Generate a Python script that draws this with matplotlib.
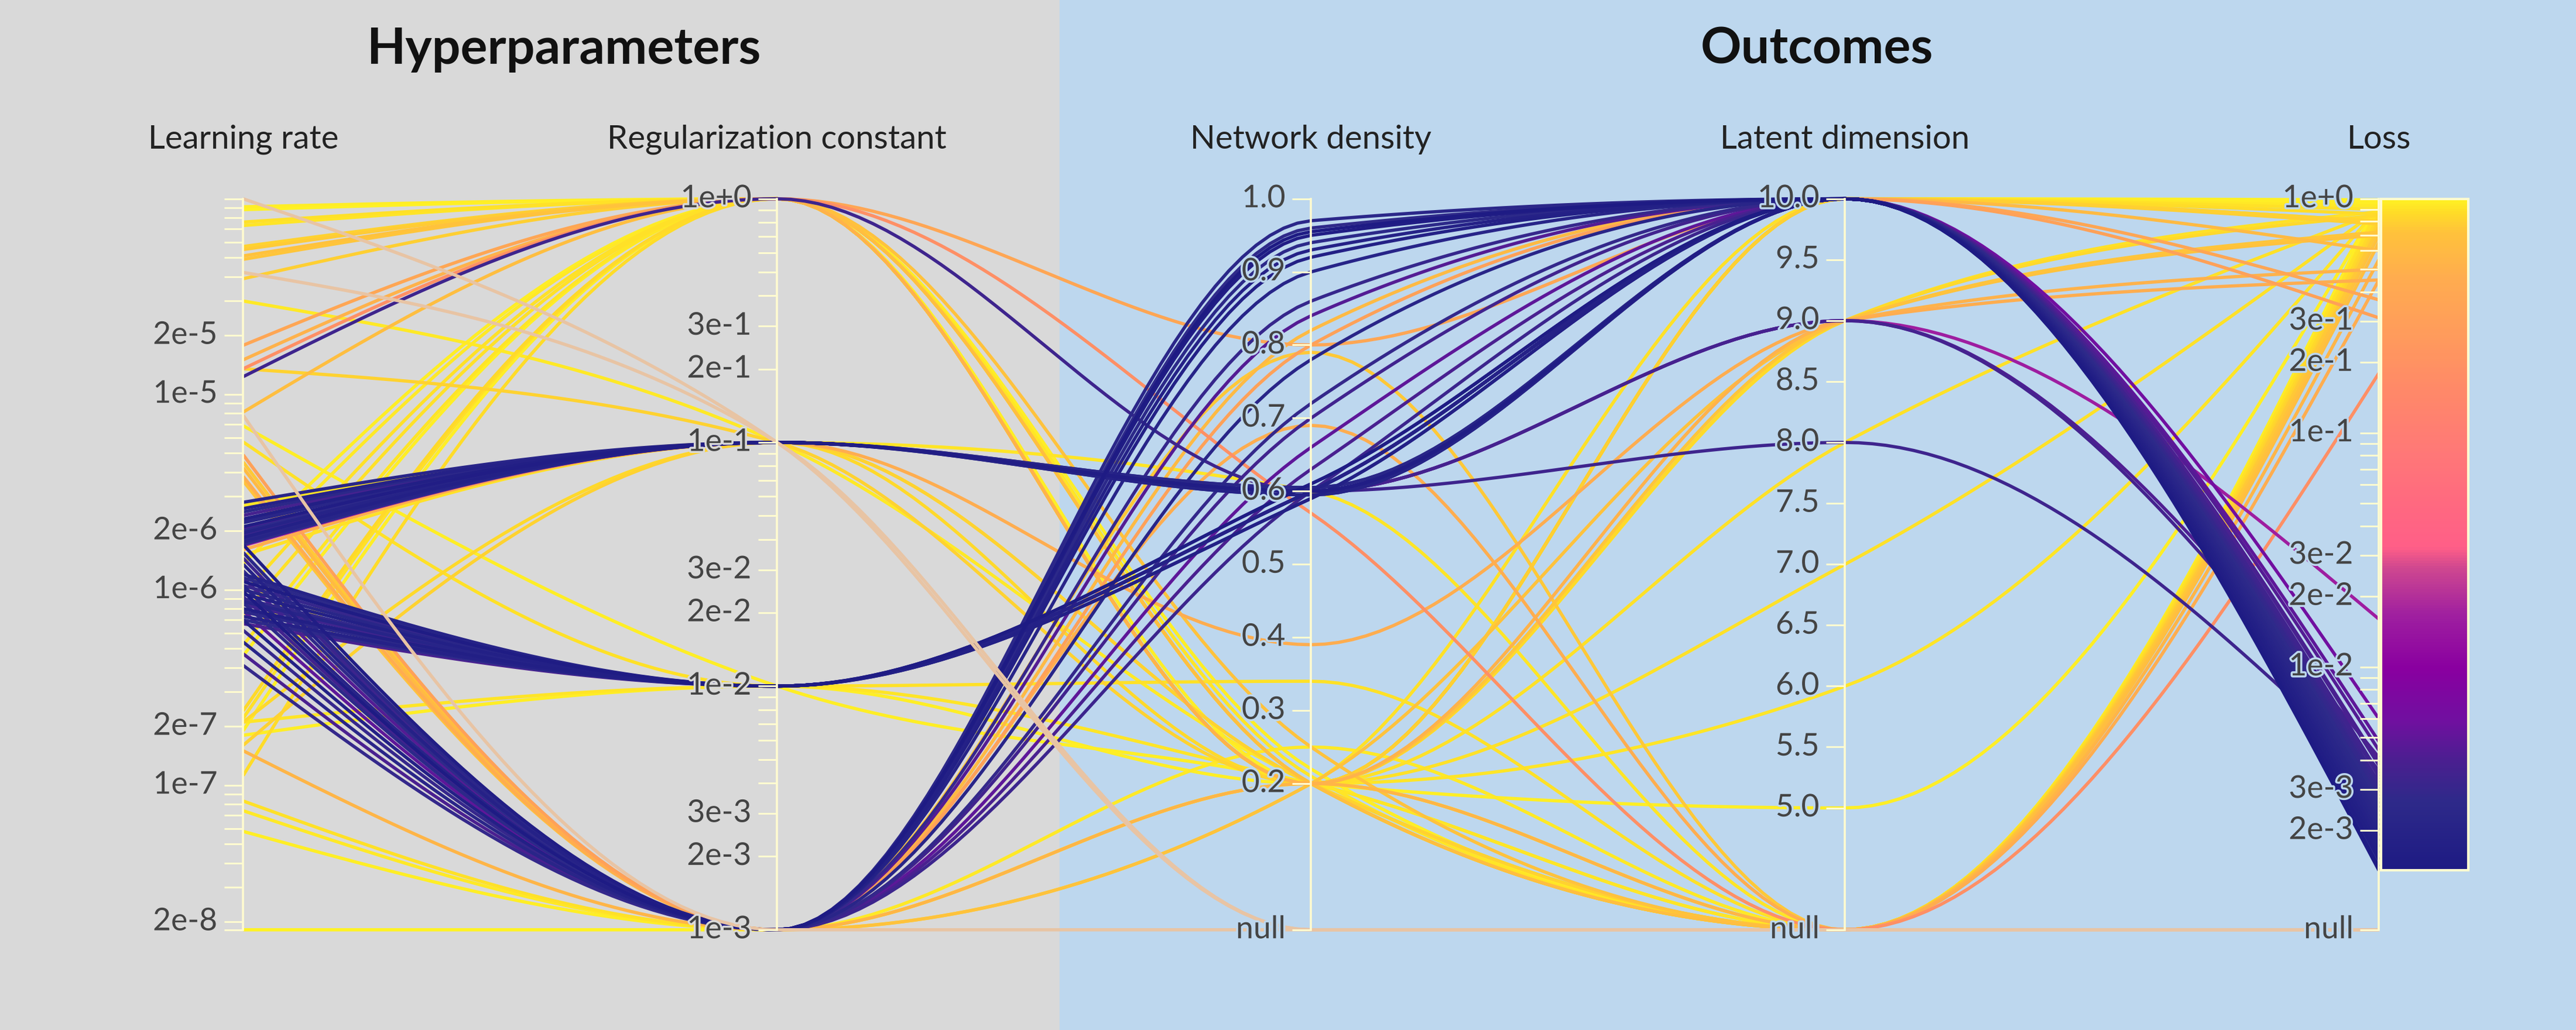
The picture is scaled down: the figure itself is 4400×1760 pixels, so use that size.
import numpy as np
import matplotlib.pyplot as plt
from matplotlib import patheffects as pe
from matplotlib.colors import LinearSegmentedColormap
from matplotlib.patches import Rectangle

plt.rcParams['font.family'] = ['Lato', 'DejaVu Sans']

nan = np.nan

axis_names = ['Learning rate', 'Regularization constant', 'Network density',
              'Latent dimension', 'Loss']
group_titles = ['Hyperparameters', 'Outcomes']

# one entry per run, same order in every column (nan = null)
learning_rate = [
    # low loss, reg 1e-1
    2.8e-6, 2.6e-6, 2.5e-6, 2.4e-6, 2.3e-6, 2.25e-6, 2.2e-6, 2.1e-6,
    2.05e-6, 2.0e-6, 1.95e-6, 1.9e-6, 1.85e-6, 1.8e-6, 1.75e-6, 1.7e-6,
    1.68e-6, 1.72e-6,
    # low loss, reg 1e-2
    1.2e-6, 1.15e-6, 1.1e-6, 1.05e-6, 1.0e-6, 9.5e-7, 9.0e-7, 8.7e-7,
    8.4e-7, 8.0e-7, 7.7e-7, 7.3e-7, 7.0e-7, 6.7e-7,
    # low loss, reg 1e-3
    1.7e-6, 1.55e-6, 1.45e-6, 1.35e-6, 1.25e-6, 1.15e-6, 1.05e-6, 9.8e-7,
    9.2e-7, 8.6e-7, 7.8e-7, 7.0e-7, 6.2e-7, 5.4e-7, 4.7e-7, 4.1e-7,
    1.23e-5,
    # high loss
    9.1e-5, 8.8e-5, 7.6e-5, 7.3e-5, 5.7e-5, 5.5e-5, 5.1e-5, 4.9e-5, 3.9e-5, 3.0e-5,
    1.78e-5, 1.5e-5, 1.35e-5, 1.35e-5, 8.1e-6, 6.9e-6, 5.7e-6, 4.9e-6, 4.5e-6, 4.2e-6,
    3.8e-6, 3.6e-6, 1.6e-6, 1.35e-6, 9.5e-7, 7.5e-7, 5.2e-7, 4.6e-7, 2.4e-7, 2.2e-7,
    1.9e-7, 1.12e-7, 1.5e-6, 2.1e-7, 1.6e-7, 2.1e-7, 1.8e-7, 1.5e-7, 8.3e-8, 7.4e-8,
    5.8e-8, 1.82e-8, 1.6e-6, 2.7e-6,
    # failed runs
    1.0e-4, 4.2e-5, 7.8e-6,
]

regularization = [
    1e-1, 1e-1, 1e-1, 1e-1, 1e-1, 1e-1, 1e-1, 1e-1,
    1e-1, 1e-1, 1e-1, 1e-1, 1e-1, 1e-1, 1e-1, 1e-1,
    1e-1, 1e-1,
    1e-2, 1e-2, 1e-2, 1e-2, 1e-2, 1e-2, 1e-2, 1e-2,
    1e-2, 1e-2, 1e-2, 1e-2, 1e-2, 1e-2,
    1e-3, 1e-3, 1e-3, 1e-3, 1e-3, 1e-3, 1e-3, 1e-3,
    1e-3, 1e-3, 1e-3, 1e-3, 1e-3, 1e-3, 1e-3, 1e-3,
    1.0,
    1.0, 1.0, 1.0, 1.0, 1.0, 1.0, 1.0, 1.0, 1.0, 1e-1,
    1.0, 1.0, 1.0, 1e-1, 1.0, 1e-2, 1e-2, 1e-3, 1e-3, 1e-3,
    1e-3, 1e-3, 1.0, 1.0, 1.0, 1.0, 1.0, 1.0, 1.0, 1.0,
    1.0, 1.0, 1e-1, 1e-1, 1e-1, 1e-2, 1e-2, 1e-3, 1e-3, 1e-3,
    1e-3, 1e-3, 1e-1, 1e-1,
    1e-1, 1e-1, 1e-3,
]

network_density = [
    0.6, 0.6, 0.595, 0.6, 0.6, 0.6, 0.605, 0.6,
    0.6, 0.6, 0.595, 0.6, 0.6, 0.6, 0.6, 0.605,
    0.6, 0.6,
    0.6, 0.6, 0.61, 0.6, 0.6, 0.59, 0.6, 0.6,
    0.6, 0.61, 0.6, 0.6, 0.59, 0.6,
    0.95, 0.97, 0.6, 0.93, 0.96, 0.84, 0.9, 0.955,
    0.7, 0.94, 0.66, 0.92, 0.86, 0.78, 0.63, 0.72,
    0.6,
    0.2, 0.2, 0.2, 0.21, 0.2, 0.2, 0.25, 0.2, 0.2, 0.2,
    0.8, 0.2, 0.57, 0.2, 0.2, 0.2, 0.34, 0.8, 0.79, 0.82,
    0.69, 0.2, 0.2, 0.2, 0.2, 0.2, 0.2, 0.2, 0.2, 0.2,
    0.22, 0.2, 0.2, 0.2, 0.2, 0.2, 0.2, 0.2, 0.2, 0.25,
    0.2, 0.2, 0.39, 0.6,
    nan, nan, nan,
]

latent_dim = [
    10, 10, 10, 9, 10, 10, 10, 10,
    9, 10, 10, 10, 10, 10, 10, 10,
    9, 10,
    10, 10, 10, 10, 10, 10, 10, 10,
    10, 10, 10, 10, 10, 10,
    10, 10, 10, 10, 10, 10, 10, 10,
    10, 10, 10, 10, 10, 10, 10, 10,
    8,
    nan, 10, 9, nan, 10, nan, nan, 9, 10, nan,
    10, 9, nan, 10, nan, nan, nan, 10, nan, 10,
    nan, 9, 10, 10, 8, 7, 6, 5, nan, nan,
    nan, 10, nan, 9, nan, nan, 10, nan, 10, nan,
    nan, nan, 9, nan,
    nan, nan, nan,
]

loss = [
    2.1e-3, 1.8e-3, 2.4e-3, 3.6e-3, 1.6e-3, 2.9e-3, 2.2e-3, 1.5e-3,
    4.1e-3, 2.6e-3, 1.9e-3, 3.1e-3, 1.7e-3, 2.3e-3, 2.0e-3, 2.7e-3,
    1.6e-2, 6.0e-3,
    1.9e-3, 2.5e-3, 1.4e-3, 3.0e-3, 2.2e-3, 1.7e-3, 2.8e-3, 2.0e-3,
    3.4e-3, 1.6e-3, 2.4e-3, 1.8e-3, 2.6e-3, 3.8e-3,
    1.5e-3, 2.3e-3, 3.2e-3, 1.8e-3, 2.7e-3, 4.4e-3, 2.0e-3, 1.35e-3,
    3.5e-3, 2.5e-3, 4.8e-3, 1.7e-3, 3.0e-3, 2.1e-3, 3.9e-3, 2.9e-3,
    3.3e-3,
    0.95, 0.99, 0.88, 0.92, 0.8, 0.76, 0.7, 0.72, 0.78, 0.93,
    0.37, 0.5, 0.18, 0.8, 0.65, 0.95, 0.9, 0.31, 0.75, 0.6,
    0.45, 0.7, 0.97, 0.93, 0.88, 0.9, 0.92, 0.95, 0.85, 0.9,
    0.96, 0.86, 0.9, 0.85, 0.8, 0.92, 0.95, 0.55, 0.9, 0.93,
    0.97, 0.98, 0.45, 0.92,
    nan, nan, nan,
]

lr_labels = [2e-5, 1e-5, 2e-6, 1e-6, 2e-7, 1e-7, 2e-8]
reg_labels = [1.0, 3e-1, 2e-1, 1e-1, 3e-2, 2e-2, 1e-2, 3e-3, 2e-3, 1e-3]
density_ticks = [1.0, 0.9, 0.8, 0.7, 0.6, 0.5, 0.4, 0.3, 0.2]
latent_ticks = [10.0, 9.5, 9.0, 8.5, 8.0, 7.5, 7.0, 6.5, 6.0, 5.5, 5.0]
loss_labels = [1.0, 3e-1, 2e-1, 1e-1, 3e-2, 2e-2, 1e-2, 3e-3, 2e-3]

GRAY_BG = '#d9d9d9'
BLUE_BG = '#bdd7ee'
AXIS_COLOR = '#fffbd0'
NULL_COLOR = '#e8c4a4'
SPLIT = 0.4113

loss_cmap = LinearSegmentedColormap.from_list('loss', [
    (0.00, '#1e1b84'), (0.10, '#2e2a8a'), (0.16, '#4a2090'), (0.22, '#7010a0'),
    (0.30, '#8a00a0'), (0.38, '#a020a0'), (0.45, '#d04890'), (0.48, '#ff5f88'),
    (0.55, '#ff6a80'), (0.62, '#ff7878'), (0.72, '#ff8a68'), (0.80, '#ff9c5c'),
    (0.88, '#ffac50'), (0.95, '#ffc23c'), (0.98, '#ffdc28'), (1.00, '#fff224')])

# axis domains; nulls sit at the bottom of their axis
lr_lo, lr_hi = np.log10(min(learning_rate)), np.log10(max(learning_rate))
reg_lo, reg_hi = np.log10(min(regularization)), np.log10(max(regularization))
DENSITY_NULL, DENSITY_TOP = 0.0, 1.0
LATENT_NULL, LATENT_TOP = 4.0, 10.0
LOSS_NULL, LOSS_TOP = -3.123, 0.0
loss_min = np.nanmin(loss)


def scale_log(v, lo, hi):
    if np.isnan(v):
        return 0.0
    return (np.log10(v) - lo) / (hi - lo)


def scale_lin(v, lo, hi):
    if np.isnan(v):
        return 0.0
    return (v - lo) / (hi - lo)


scalers = [
    lambda v: scale_log(v, lr_lo, lr_hi),
    lambda v: scale_log(v, reg_lo, reg_hi),
    lambda v: scale_lin(v, DENSITY_NULL, DENSITY_TOP),
    lambda v: scale_lin(v, LATENT_NULL, LATENT_TOP),
    lambda v: scale_log(v, LOSS_NULL, LOSS_TOP),
]


def loss_color(v):
    if np.isnan(v):
        return NULL_COLOR
    t = (np.log10(v) - np.log10(loss_min)) / (LOSS_TOP - np.log10(loss_min))
    return loss_cmap(np.clip(t, 0, 1))


def monotone_path(xs, ys, n=40):
    # same curve as d3.curveMonotoneX
    xs = np.asarray(xs, float)
    ys = np.asarray(ys, float)
    h = np.diff(xs)
    s = np.diff(ys) / h
    m = len(xs)
    t = np.zeros(m)
    for i in range(1, m - 1):
        p = (s[i - 1] * h[i] + s[i] * h[i - 1]) / (h[i - 1] + h[i])
        sg = (1 if s[i - 1] >= 0 else -1) + (1 if s[i] >= 0 else -1)
        t[i] = sg * min(abs(s[i - 1]), abs(s[i]), 0.5 * abs(p))
    t[0] = (3 * s[0] - t[1]) / 2
    t[-1] = (3 * s[-1] - t[-2]) / 2
    u = np.linspace(0, 1, n)[:, None]
    px, py = [], []
    for i in range(m - 1):
        dx = h[i] / 3
        p0 = np.array([xs[i], ys[i]])
        p1 = np.array([xs[i] + dx, ys[i] + dx * t[i]])
        p2 = np.array([xs[i + 1] - dx, ys[i + 1] - dx * t[i + 1]])
        p3 = np.array([xs[i + 1], ys[i + 1]])
        b = ((1 - u) ** 3) * p0 + 3 * ((1 - u) ** 2) * u * p1 \
            + 3 * (1 - u) * u ** 2 * p2 + u ** 3 * p3
        px.extend(b[:, 0])
        py.extend(b[:, 1])
    return px, py


def sci(v):
    e = int(np.floor(np.log10(v) + 1e-9))
    k = int(round(v / 10.0 ** e))
    return f'{k}e{e:+d}'


def log_ticks(lo, hi):
    out = []
    for e in range(int(np.floor(lo)) - 1, int(np.ceil(hi)) + 1):
        for k in range(1, 10):
            v = k * 10.0 ** e
            if lo - 1e-9 <= np.log10(v) <= hi + 1e-9:
                out.append(v)
    return out


def is_labelled(v, labels):
    return any(np.isclose(v, labels, rtol=1e-6, atol=0))


fig = plt.figure(figsize=(44, 17.6), dpi=100)
fig.patches.append(Rectangle((0, 0), SPLIT, 1, transform=fig.transFigure,
                             color=GRAY_BG, zorder=-10))
fig.patches.append(Rectangle((SPLIT, 0), 1 - SPLIT, 1, transform=fig.transFigure,
                             color=BLUE_BG, zorder=-10))

ax = fig.add_axes([0.0944, 0.0973, 0.8291, 0.7097])
ax.set_axis_off()

columns = [learning_rate, regularization, network_density, latent_dim, loss]
n_runs = len(loss)
order = sorted(range(n_runs),
               key=lambda i: (bool(np.isnan(loss[i])), 0 if np.isnan(loss[i]) else -loss[i]))
for i in order:
    ys = [scalers[j](columns[j][i]) for j in range(5)]
    px, py = monotone_path(range(5), ys)
    ax.plot(px, py, color=loss_color(loss[i]), lw=4.0, zorder=2,
            solid_capstyle='butt', clip_on=False)

# ticks per axis: (position, label)
ticks = [[], [], [], [], []]
for v in log_ticks(lr_lo, lr_hi):
    ticks[0].append((scalers[0](v), sci(v) if is_labelled(v, lr_labels) else None))
ticks[0].append((0.0, None))
for v in log_ticks(reg_lo, reg_hi):
    ticks[1].append((scalers[1](v), sci(v) if is_labelled(v, reg_labels) else None))
for v in density_ticks:
    ticks[2].append((scalers[2](v), f'{v:.1f}'))
ticks[2].append((0.0, 'null'))
for v in latent_ticks:
    ticks[3].append((scalers[3](v), f'{v:.1f}'))
ticks[3].append((0.0, 'null'))
for v in log_ticks(np.log10(loss_min), LOSS_TOP):
    ticks[4].append((scalers[4](v), sci(v) if is_labelled(v, loss_labels) else None))
ticks[4].append((0.0, 'null'))

tick_len = 0.036
for j in range(5):
    bg = GRAY_BG if j < 2 else BLUE_BG
    ax.plot([j, j], [0, 1], color=AXIS_COLOR, lw=2.6, zorder=4, clip_on=False)
    for pos, lab in ticks[j]:
        ax.plot([j - tick_len, j], [pos, pos], color=AXIS_COLOR, lw=2.2,
                zorder=4, clip_on=False, solid_capstyle='butt')
        if lab:
            ax.text(j - tick_len - 0.012, pos, lab, ha='right', va='center',
                    fontsize=38.5, color='#444444', zorder=7, clip_on=False,
                    path_effects=[pe.withStroke(linewidth=5, foreground=bg)])
    fig.text(0.0944 + j * 0.8291 / 4, 0.8644, axis_names[j], ha='center',
             va='center', fontsize=40.5, color='#222222')

# colour bar next to the loss axis
cb_bottom = scalers[4](loss_min)
grad = np.linspace(0, 1, 256).reshape(-1, 1)
im = ax.imshow(grad, cmap=loss_cmap, origin='lower', aspect='auto',
               extent=[4.004, 4.167, cb_bottom, 1.0], zorder=5)
im.set_clip_on(False)
ax.add_patch(Rectangle((4.004, cb_bottom), 0.163, 1.0 - cb_bottom, fill=False,
                       edgecolor=AXIS_COLOR, lw=3, zorder=6, clip_on=False))

ax.set_xlim(0, 4)
ax.set_ylim(0, 1)

fig.text(0.2188, 0.952, group_titles[0], ha='center', va='center',
         fontsize=62, fontweight='bold', color='#111111')
fig.text(0.7054, 0.952, group_titles[1], ha='center', va='center',
         fontsize=62, fontweight='bold', color='#111111')

fig.savefig('out.png', dpi=100)
